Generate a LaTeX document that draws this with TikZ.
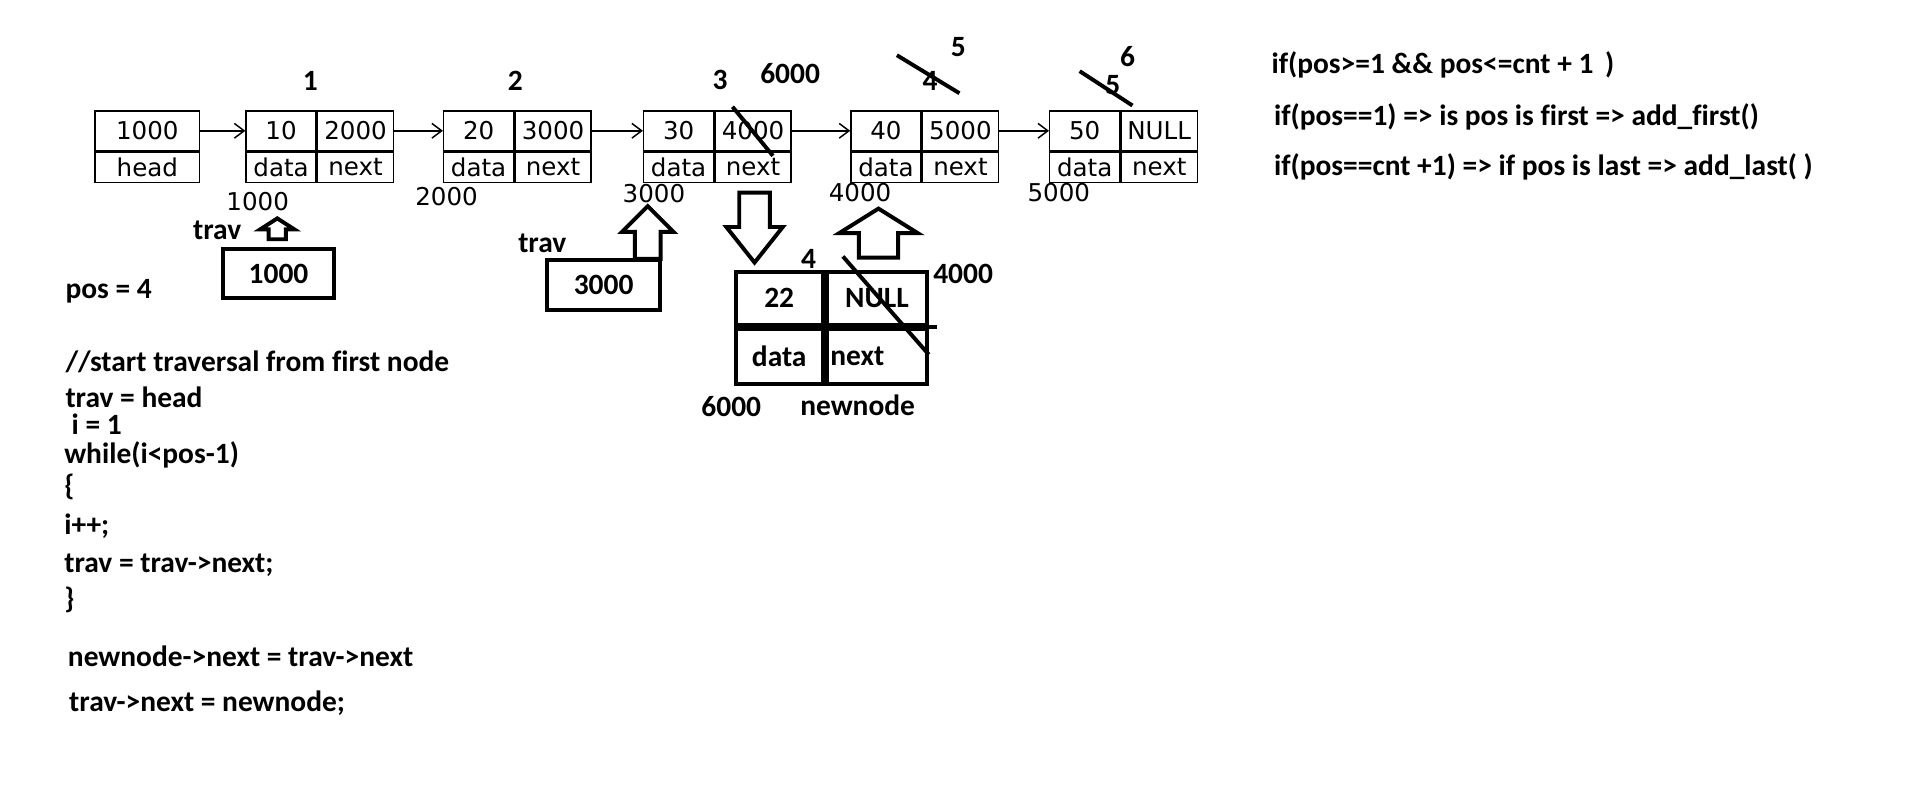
\documentclass[tikz,border=0pt]{standalone}
\usepackage{fontspec}
\setmainfont{Carlito}[Ligatures=NoCommon]
\newfontfamily\listfont{DejaVu Sans}
\usetikzlibrary{arrows.meta}

\tikzset{
  cell/.style={draw, line width=0.6pt, inner sep=0pt, minimum height=16pt,
    font=\listfont\fontsize{10}{11}\selectfont},
  dw/.style={minimum width=28.5pt},
  nw/.style={minimum width=31pt},
  rowb/.style={minimum height=12.5pt},
  addr/.style={font=\listfont\fontsize{10}{11}\selectfont},
  lbl/.style={font=\bfseries\fontsize{12}{14}\selectfont},
  code/.style={lbl, anchor=base west, inner sep=0pt},
  bigcell/.style={draw, line width=1.6pt, inner sep=0pt, lbl},
  link/.style={-{Straight Barb[length=4pt,width=6pt]}, line width=0.6pt},
  fat/.style={draw, line width=1.6pt, line join=miter},
  strike/.style={line width=1.6pt},
  pics/fatup/.style n args={4}{code={
    \draw[fat] (0,0) -- (#1,#2) -- (#3,#2) -- (#3,#4) -- (-#3,#4) -- (-#3,#2) -- (-#1,#2) -- cycle;
  }}
}

\begin{document}
\begin{tikzpicture}[x=0.5pt,y=-0.5pt]
  \useasboundingbox (0,0) rectangle (1560,659.3);

  % the list
  \node[cell, minimum width=42.5pt, anchor=north west] (hd) at (77,90) {1000};
  \node[cell, minimum width=42.5pt, rowb, anchor=north west] (hdl) at (hd.south west) {head};
  \foreach \i/\x/\d/\p in {1/200/10/2000, 2/361/20/3000, 3/524/30/4000, 4/693/40/5000, 5/855/50/NULL} {
    \node[cell, dw, anchor=north west] (d\i) at (\x,90) {\d};
    \node[cell, nw, anchor=north west] (n\i) at (d\i.north east) {\p};
    \node[cell, dw, rowb, anchor=north west] (dl\i) at (d\i.south west) {data};
    \node[cell, nw, rowb, anchor=north west] (nl\i) at (n\i.south west) {next};
  }
  \draw[link] (hd.east) -- (d1.west);
  \foreach \i/\j in {1/2, 2/3, 3/4, 4/5}
    \draw[link] (n\i.east) -- (d\j.west);

  % addresses
  \foreach \a/\x/\y in {1000/210/164, 2000/364/160, 3000/533/158, 4000/701/157, 5000/863/157}
    \node[addr] (a\a) at (\x,\y) {\a};

  % positions
  \node[lbl] (p1) at (253,66) {1};
  \node[lbl] (p2) at (420,66) {2};
  \node[lbl] (p3) at (587,65) {3};
  \node[lbl] (p4) at (758,66) {4};
  \node[lbl] (p4new) at (781,38) {5};
  \node[lbl] (p5) at (907,69) {5};
  \node[lbl] (p5new) at (919,46) {6};
  \node[lbl] (n3new) at (644,60) {6000};
  \draw[strike] (597,87) -- (630,127);
  \draw[strike] (731,45) -- (782,76);
  \draw[strike] (880,58) -- (923,86);

  % trav
  \node[code] (trav1) at (157,195) {trav};
  \pic at (226,178) {fatup={14}{9}{7}{17}};
  \node[bigcell, minimum width=45pt, minimum height=20pt] (t1) at (227,223) {1000};
  \node[code] (trav2) at (422,206) {trav};
  \node[bigcell, minimum width=46pt, minimum height=20.5pt] (t2) at (492,232.5) {3000};
  \pic at (528,168) {fatup={21}{21}{10.5}{43}};

  % new node
  \pic at (615,214) {fatup={23}{-29}{12.5}{-57}};
  \pic at (716,170) {fatup={32}{20}{16}{40}};
  \node[bigcell, minimum width=35.5pt, minimum height=21.5pt, anchor=north west] (nd) at (598,220) {22};
  \node[bigcell, minimum width=41pt, minimum height=21.5pt, anchor=north west] (nn) at (nd.north east) {NULL};
  \node[bigcell, minimum width=35.5pt, minimum height=22.5pt, anchor=north west] (ndl) at (nd.south west) {data};
  \node[bigcell, text width=38pt, inner xsep=1.5pt, align=left, minimum height=22.5pt, anchor=north west] (nnl) at (nn.south west) {next};
  \draw[line width=1.6pt] (nn.south east) -- ++(6,0);
  \draw[strike] (687,209) -- (757,289);
  \node[lbl] (pnew) at (659,211) {4};
  \node[lbl] (nnew) at (785,223) {4000};
  \node[lbl] (anew) at (596,331) {6000};
  \node[lbl] (newnode) at (699,330) {newnode};

  % code
  \node[code] (c0) at (53,243) {pos = 4};
  \node[code] (c1) at (53,303) {//start traversal from first node};
  \node[code] (c2) at (53,332) {trav = head};
  \node[code] (c3) at (58,354) {i = 1};
  \node[code] (c4) at (52,378) {while(i<pos-1)};
  \node[code] (c5) at (52,404) {\{};
  \node[code] (c6) at (52,436) {i++;};
  \node[code] (c7) at (52,467) {trav = trav->next;};
  \node[code] (c8) at (52,496) {\}};
  \node[code] (c9) at (55,543) {newnode->next = trav->next};
  \node[code] (c10) at (56,580) {trav->next = newnode;};

  % cases
  \node[code] (r1) at (1036,60) {if(pos>=1 \&\& pos<=cnt + 1 \,)};
  \node[code] (r2) at (1038,102) {if(pos==1) => is pos is first => add\_first()};
  \node[code] (r3) at (1038,143) {if(pos==cnt +1) => if pos is last => add\_last( )};
\end{tikzpicture}
\end{document}
